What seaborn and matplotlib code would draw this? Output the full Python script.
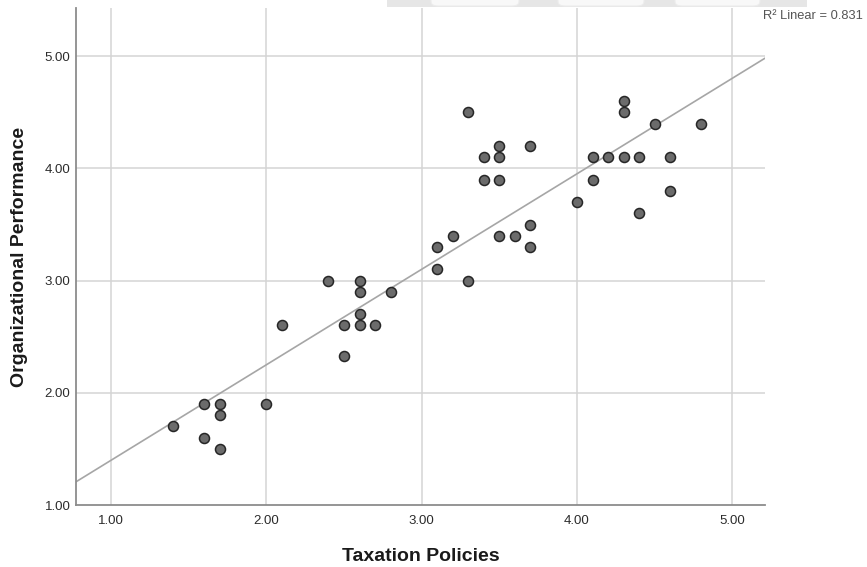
import matplotlib
matplotlib.use("Agg")
import matplotlib.pyplot as plt
from matplotlib.patches import Rectangle, FancyBboxPatch
import numpy as np
import pandas as pd
import seaborn as sns

# Survey scores: taxation policies (x) vs organizational performance (y)
taxation = [1.4, 1.6, 1.6, 1.7, 1.7, 1.7, 2.0, 2.1, 2.4, 2.5, 2.5, 2.6, 2.6, 2.6, 2.6,
            2.7, 2.8, 3.1, 3.1, 3.2, 3.3, 3.3, 3.4, 3.4, 3.5, 3.5, 3.5, 3.5, 3.6, 3.7,
            3.7, 3.7, 4.0, 4.1, 4.1, 4.2, 4.3, 4.3, 4.3, 4.4, 4.4, 4.5, 4.6, 4.6, 4.8]
performance = [1.7, 1.9, 1.6, 1.9, 1.8, 1.5, 1.9, 2.6, 3.0, 2.6, 2.33, 3.0, 2.9, 2.7, 2.6,
               2.6, 2.9, 3.3, 3.1, 3.4, 4.5, 3.0, 4.1, 3.9, 4.2, 4.1, 3.9, 3.4, 3.4, 4.2,
               3.5, 3.3, 3.7, 4.1, 3.9, 4.1, 4.6, 4.5, 4.1, 4.1, 3.6, 4.4, 4.1, 3.8, 4.4]
tick_values = [1.0, 2.0, 3.0, 4.0, 5.0]
tick_labels = ["1.00", "2.00", "3.00", "4.00", "5.00"]
r_squared = 0.831
x_title = "Taxation Policies"
y_title = "Organizational Performance"

df = pd.DataFrame({x_title: taxation, y_title: performance})

sns.set_style("white")
plt.rcParams["font.family"] = ["Liberation Sans", "DejaVu Sans"]

W, H = 867, 567
fig = plt.figure(figsize=(W / 100, H / 100), dpi=100)
ax = fig.add_axes([76 / W, 1 - 505 / H, (765 - 76) / W, (505 - 8) / H])

ax.set_xlim(0.775, 5.21)
ax.set_ylim(1.0, 5.43)

# grid at the labelled values
for v in tick_values:
    ax.axvline(v, color="#d4d4d4", lw=1.1, zorder=0)
    if v > 1.0:
        ax.axhline(v, color="#d4d4d4", lw=1.1, zorder=0)

# fitted least-squares line across the whole frame
sns.regplot(data=df, x=x_title, y=y_title, scatter=False, ci=None, truncate=False,
            line_kws=dict(color="#a6a6a6", lw=1.2, zorder=2), ax=ax)

sns.scatterplot(data=df, x=x_title, y=y_title, s=52, color="#6b6b6b",
                edgecolor="#262626", linewidth=1.1, zorder=3, ax=ax)

ax.set_xticks(tick_values)
ax.set_xticklabels(tick_labels)
ax.set_yticks(tick_values)
ax.set_yticklabels(tick_labels)
ax.tick_params(axis="both", length=0, labelsize=9.5, labelcolor="#2b2b2b")
ax.tick_params(axis="x", pad=7)
ax.tick_params(axis="y", pad=4)

for side in ("top", "right"):
    ax.spines[side].set_visible(False)
for side in ("left", "bottom"):
    ax.spines[side].set_color("#8c8c8c")
    ax.spines[side].set_linewidth(1.3)

ax.set_xlabel(x_title, fontsize=14, fontweight="bold", color="#1a1a1a", labelpad=15)
ax.set_ylabel(y_title, fontsize=14, fontweight="bold", color="#1a1a1a", labelpad=12)

fig.text(763 / W, 1 - 16 / H, f"R\u00b2 Linear = {r_squared:.3f}", fontsize=9.3,
         color="#555555", ha="left", va="center")

# toolbar strip along the top edge
fig.patches.append(Rectangle((387 / W, 1 - 7 / H), (807 - 387) / W, 7 / H,
                             transform=fig.transFigure, facecolor="#e6e6e6",
                             edgecolor="none", zorder=5))
for x0, x1 in [(431, 519), (558, 644), (675, 760)]:
    fig.patches.append(FancyBboxPatch((x0 / W, 1 - 6 / H), (x1 - x0) / W, 12 / H,
                                      boxstyle="round,pad=0,rounding_size=0.008",
                                      transform=fig.transFigure, facecolor="#f8f8f8",
                                      edgecolor="#ececec", lw=0.8, zorder=6))

fig.savefig("out.png", dpi=100)
